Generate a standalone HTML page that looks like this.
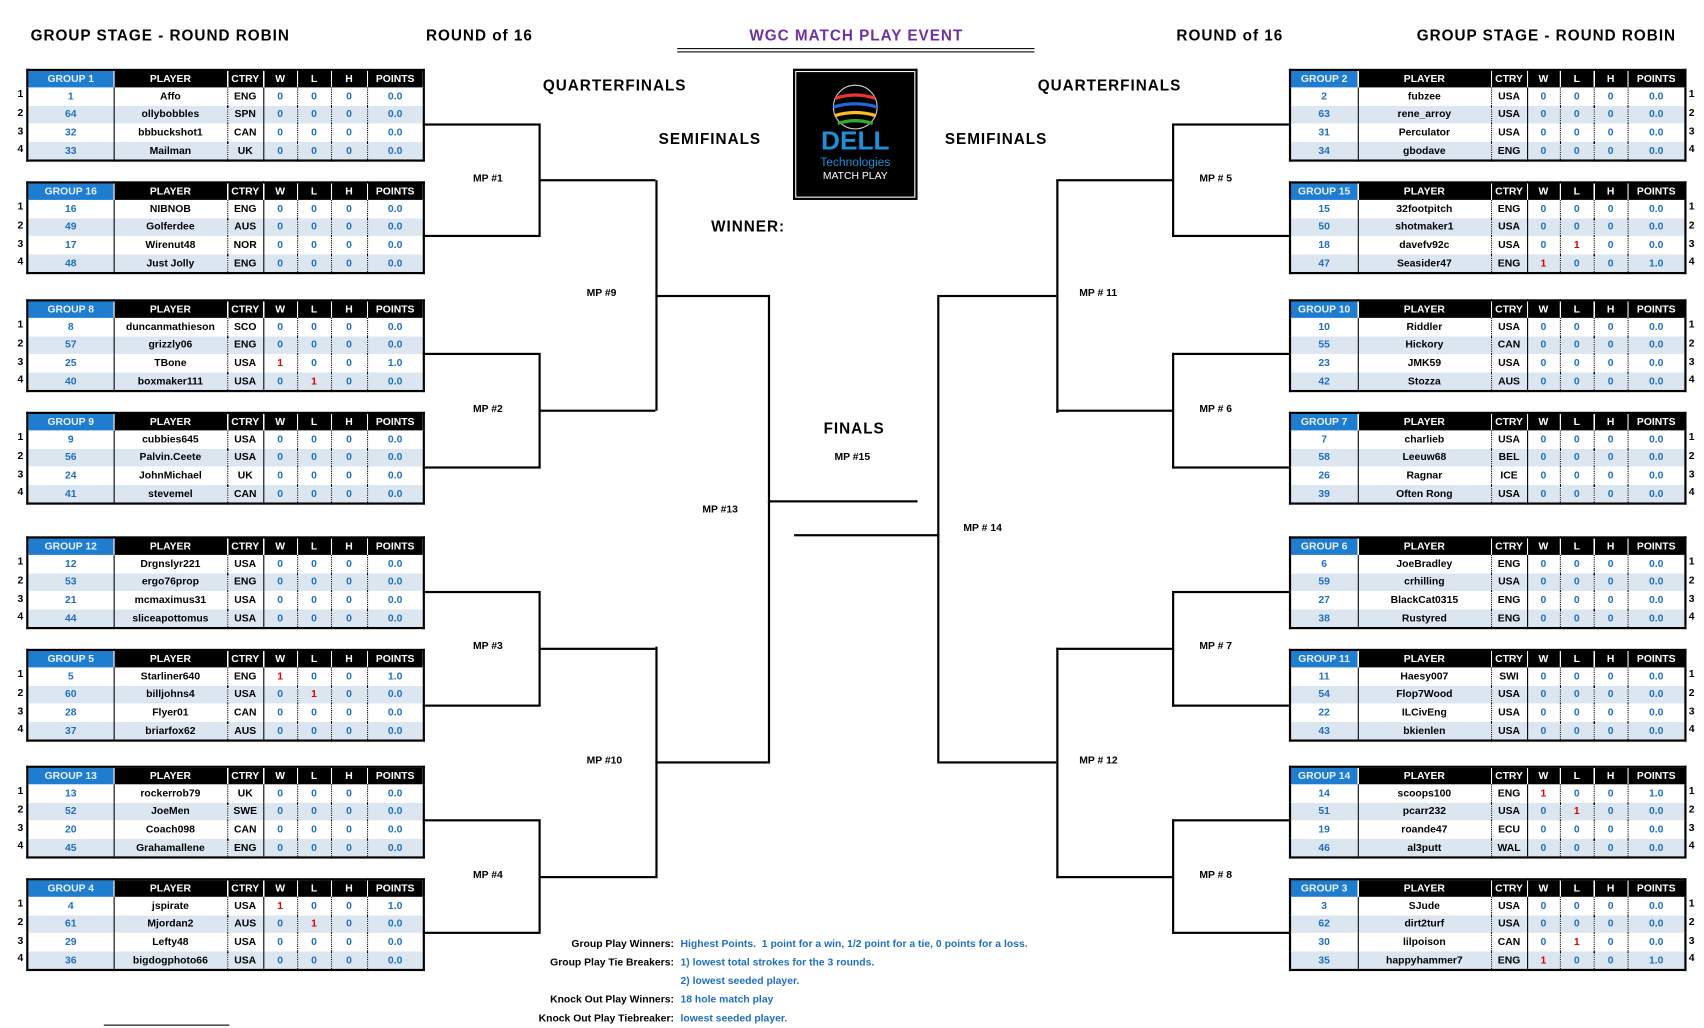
<!DOCTYPE html>
<html><head><meta charset="utf-8"><style>
html,body{margin:0;padding:0;background:#fff;}
body{width:1704px;height:1022px;overflow:hidden;position:relative;font-family:"Comic Sans MS","Liberation Sans",sans-serif;}
#w{position:absolute;left:0;top:0;width:1560px;height:936px;transform:scale(1.09231);transform-origin:0 0;}
.t{position:absolute;font-weight:bold;white-space:nowrap;color:#000;}
.h{font-size:14px;letter-spacing:0.9px;}
.mp{font-size:9.5px;}
.ln{position:absolute;background:#000;}
table{position:absolute;border-collapse:collapse;border:2px solid #000;font-size:9.5px;font-weight:bold;table-layout:fixed;}
td{height:16.6px;padding:0;text-align:center;overflow:hidden;white-space:nowrap;}
tr.hd td{background:#000;color:#fff;height:15px;border-left:1px dotted #fff;}
tr.hd td.g{background:#1f7dd0;color:#e8f0ff;border-left:none;}
td.n{color:#1f6fc0;}
td.b{color:#1f6fc0;border-left:1px dotted #000;}
td.r{color:#e00000;border-left:1px dotted #000;}
td.p{border-left:1px solid #000;}
tr.a td{background:#dce6f1;}
.rn{position:absolute;font-size:9.5px;font-weight:bold;}
</style></head><body><div id="w">
<div class="t h" style="left:28px;top:24px">GROUP STAGE - ROUND ROBIN</div>
<div class="t h" style="left:390px;top:24px">ROUND of 16</div>
<div class="t h" style="left:686px;top:24px;color:#7030a0">WGC MATCH PLAY EVENT</div>
<div class="ln" style="left:620px;top:44px;width:327px;height:1px"></div>
<div class="ln" style="left:620px;top:47px;width:327px;height:1px"></div>
<div class="t h" style="left:1077px;top:24px">ROUND of 16</div>
<div class="t h" style="left:1297px;top:24px">GROUP STAGE - ROUND ROBIN</div>
<div class="t h" style="left:497px;top:70px">QUARTERFINALS</div>
<div class="t h" style="left:950px;top:70px">QUARTERFINALS</div>
<div class="t h" style="left:603px;top:119px">SEMIFINALS</div>
<div class="t h" style="left:865px;top:119px">SEMIFINALS</div>
<div class="t h" style="left:651px;top:199px">WINNER:</div>
<div class="t h" style="left:754px;top:384px">FINALS</div>
<div style="position:absolute;left:726px;top:63px;width:112px;height:118px;background:#000;border:1px solid #000;outline:1px solid #fff;outline-offset:-3px">
<svg width="112" height="60" style="position:absolute;left:0;top:6px"><g fill="none" stroke-width="3"><circle cx="56" cy="28" r="20" stroke="#ccc" stroke-width="1"/><path d="M38 20 Q56 14 74 20" stroke="#e33"/><path d="M36 28 Q56 22 76 28" stroke="#26d"/><path d="M37 36 Q56 30 75 36" stroke="#fb2"/><path d="M40 43 Q56 38 72 43" stroke="#3a3"/></g></svg>
<div style="position:absolute;left:0;width:112px;top:52px;text-align:center;color:#1f8fd8;font:bold 24px 'Liberation Sans',sans-serif">DELL</div>
<div style="position:absolute;left:0;width:112px;top:79px;text-align:center;color:#1f8fd8;font:11px 'Liberation Sans',sans-serif">Technologies</div>
<div style="position:absolute;left:0;width:112px;top:92px;text-align:center;color:#fff;font:9.5px 'Liberation Sans',sans-serif">MATCH PLAY</div>
</div>
<div id="c"></div>
<div class="t" style="left:400px;top:856px;width:217px;text-align:right;font-size:9.5px;line-height:17px">Group Play Winners:<br>Group Play Tie Breakers:<br>&nbsp;<br>Knock Out Play Winners:<br>Knock Out Play Tiebreaker:</div>
<div class="t" style="left:623px;top:856px;font-size:9.5px;line-height:17px;color:#1f6fc0">Highest Points.&nbsp; 1 point for a win, 1/2 point for a tie, 0 points for a loss.<br>1) lowest total strokes for the 3 rounds.<br>2) lowest seeded player.<br>18 hole match play<br>lowest seeded player.</div>
<div class="ln" style="left:95px;top:938px;width:115px;height:1px"></div>
</div>
<script>
var L=[["GROUP 1",63,[["1","Affo","ENG"],["64","ollybobbles","SPN"],["32","bbbuckshot1","CAN"],["33","Mailman","UK"]]],
["GROUP 16",166,[["16","NIBNOB","ENG"],["49","Golferdee","AUS"],["17","Wirenut48","NOR"],["48","Just Jolly","ENG"]]],
["GROUP 8",274,[["8","duncanmathieson","SCO"],["57","grizzly06","ENG"],["25","TBone","USA","w"],["40","boxmaker111","USA","l"]]],
["GROUP 9",377,[["9","cubbies645","USA"],["56","Palvin.Ceete","USA"],["24","JohnMichael","UK"],["41","stevemel","CAN"]]],
["GROUP 12",491,[["12","Drgnslyr221","USA"],["53","ergo76prop","ENG"],["21","mcmaximus31","USA"],["44","sliceapottomus","USA"]]],
["GROUP 5",594,[["5","Starliner640","ENG","w"],["60","billjohns4","USA","l"],["28","Flyer01","CAN"],["37","briarfox62","AUS"]]],
["GROUP 13",701,[["13","rockerrob79","UK"],["52","JoeMen","SWE"],["20","Coach098","CAN"],["45","Grahamallene","ENG"]]],
["GROUP 4",804,[["4","jspirate","USA","w"],["61","Mjordan2","AUS","l"],["29","Lefty48","USA"],["36","bigdogphoto66","USA"]]]];
var R=[["GROUP 2",63,[["2","fubzee","USA"],["63","rene_arroy","USA"],["31","Perculator","USA"],["34","gbodave","ENG"]]],
["GROUP 15",166,[["15","32footpitch","ENG"],["50","shotmaker1","USA"],["18","davefv92c","USA","l"],["47","Seasider47","ENG","w"]]],
["GROUP 10",274,[["10","Riddler","USA"],["55","Hickory","CAN"],["23","JMK59","USA"],["42","Stozza","AUS"]]],
["GROUP 7",377,[["7","charlieb","USA"],["58","Leeuw68","BEL"],["26","Ragnar","ICE"],["39","Often Rong","USA"]]],
["GROUP 6",491,[["6","JoeBradley","ENG"],["59","crhilling","USA"],["27","BlackCat0315","ENG"],["38","Rustyred","ENG"]]],
["GROUP 11",594,[["11","Haesy007","SWI"],["54","Flop7Wood","USA"],["22","ILCivEng","USA"],["43","bkienlen","USA"]]],
["GROUP 14",701,[["14","scoops100","ENG","w"],["51","pcarr232","USA","l"],["19","roande47","ECU"],["46","al3putt","WAL"]]],
["GROUP 3",804,[["3","SJude","USA"],["62","dirt2turf","USA"],["30","lilpoison","CAN","l"],["35","happyhammer7","ENG","w"]]]];
var h="";
function tb(g,x,widths,right){
 var s='<table style="left:'+x+'px;top:'+g[1]+'px;width:'+widths.reduce(function(a,b){return a+b})+'px"><colgroup>';
 widths.forEach(function(w){s+='<col style="width:'+w+'px">'});
 s+='</colgroup><tr class="hd"><td class="g">'+g[0]+'</td><td>PLAYER</td><td>CTRY</td><td>W</td><td>L</td><td>H</td><td>POINTS</td></tr>';
 var nums="";
 g[2].forEach(function(r,i){
  var w=r[3]=="w",l=r[3]=="l";
  s+='<tr'+(i%2?' class="a"':'')+'><td class="n">'+r[0]+'</td><td class="p">'+r[1]+'</td><td class="p" style="border-left:1px dotted #000">'+r[2]+'</td><td class="'+(w?'r':'b')+'" style="border-left:1px solid #000">'+(w?1:0)+'</td><td class="'+(l?'r':'b')+'">'+(l?1:0)+'</td><td class="b">0</td><td class="b">'+(w?'1.0':'0.0')+'</td></tr>';
  nums+='<div class="rn" style="left:'+(right?1546:16)+'px;top:'+(g[1]+18+i*16.8)+'px">'+(i+1)+'</div>';
 });
 return s+'</table>'+nums;
}
var out="";
L.forEach(function(g){out+=tb(g,24,[79,104,33,31,31,33,52],0)});
R.forEach(function(g){out+=tb(g,1180,[62,122,33,30,31,31,53],1)});
h=out;
function ln(x,y,w,hh){h+='<div class="ln" style="left:'+x+'px;top:'+y+'px;width:'+w+'px;height:'+hh+'px"></div>'}
function br(x1,x2,y1,y2,xo){
 var a=Math.min(x1,x2);ln(a,y1,Math.abs(x2-x1),2);ln(a,y2,Math.abs(x2-x1),2);ln(x2,y1,2,y2-y1+2);
 var m=Math.round((y1+y2)/2);ln(Math.min(x2,xo),m,Math.abs(xo-x2),2);}
br(387,493,113,215,600);br(387,493,323,427,600);br(387,493,541,645,600);br(387,493,750,853,600);
ln(600,165,2,211);ln(600,270,103,2);ln(600,592,2,212);ln(600,697,103,2);ln(703,270,2,429);ln(703,458,137,2);
br(1180,1073,113,215,967);br(1180,1073,323,427,967);br(1180,1073,541,645,967);br(1180,1073,750,853,967);
ln(967,165,2,213);ln(860,270,107,2);ln(967,593,2,211);ln(860,697,107,2);ln(858,270,2,429);ln(727,489,133,2);
function t(x,y,s){h+='<div class="t mp" style="left:'+x+'px;top:'+y+'px">'+s+'</div>'}
t(433,158,"MP #1");t(433,369,"MP #2");t(433,586,"MP #3");t(433,796,"MP #4");t(537,263,"MP #9");t(537,691,"MP #10");
t(643,461,"MP #13");t(764,413,"MP #15");t(1098,158,"MP # 5");t(1098,369,"MP # 6");t(1098,586,"MP # 7");t(1098,796,"MP # 8");
t(988,263,"MP # 11");t(988,691,"MP # 12");t(882,478,"MP # 14");
document.getElementById("c").innerHTML=h;
</script>
</body></html>
